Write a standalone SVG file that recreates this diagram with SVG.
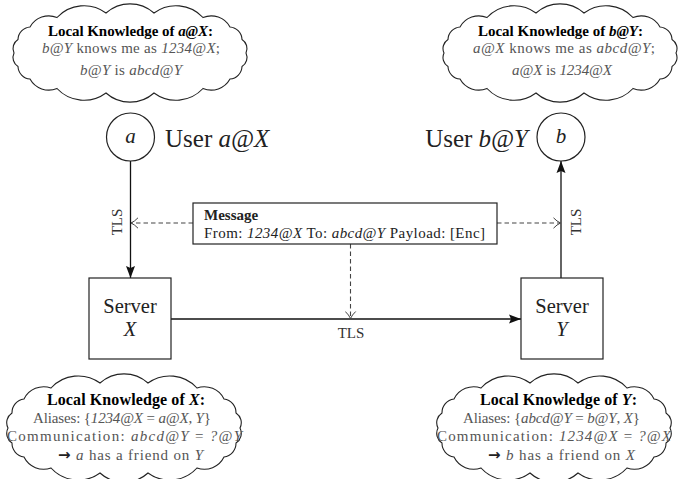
<svg xmlns="http://www.w3.org/2000/svg" width="691" height="479" viewBox="0 0 691 479">
<style>
  .cloud { fill: #fff; stroke: #222; stroke-width: 1.1; }
  .ttl { font-family: "Liberation Serif", serif; font-weight: bold; fill: #000; text-anchor: middle; }
  .body { font-family: "Liberation Serif", serif; fill: #555; text-anchor: middle; }
  .lbl { font-family: "Liberation Serif", serif; fill: #222; }
  .it { font-style: italic; }
  .node { fill: #fff; stroke: #222; stroke-width: 1.2; }
  .solid { fill: none; stroke: #111; stroke-width: 1.3; }
  .dash { fill: none; stroke: #444; stroke-width: 1.1; stroke-dasharray: 4.5 3; }
  .tls { font-family: "Liberation Serif", serif; fill: #333; font-size: 15px; text-anchor: middle; }
  .arr { font-family: "DejaVu Sans", sans-serif; font-weight: bold; fill: #222; font-style: normal; }
</style>
<defs>
  <path id="cloudTop" d="M116,0 A10.6,10.6 0 0 1 112,13.5 A13,13 0 0 1 100,26 A21.5,21.5 0 0 1 73,35.5 A36.9,36.9 0 0 1 24,40 A36,36 0 0 1 -24,40 A36.9,36.9 0 0 1 -73,35.5 A21.5,21.5 0 0 1 -100,26 A13,13 0 0 1 -112,13.5 A10.6,10.6 0 0 1 -116,0 A10.6,10.6 0 0 1 -112,-13.5 A13,13 0 0 1 -100,-26 A21.5,21.5 0 0 1 -73,-35.5 A36.9,36.9 0 0 1 -24,-40 A36,36 0 0 1 24,-40 A36.9,36.9 0 0 1 73,-35.5 A21.5,21.5 0 0 1 100,-26 A13,13 0 0 1 112,-13.5 A10.6,10.6 0 0 1 116,0 Z"/>
  <path id="cloudBot" d="M116,0 A11.6,11.6 0 0 1 112,15 A13.8,13.8 0 0 1 100,29 A21.9,21.9 0 0 1 73,40 A37,37 0 0 1 24,45 A36,36 0 0 1 -24,45 A37,37 0 0 1 -73,40 A21.9,21.9 0 0 1 -100,29 A13.8,13.8 0 0 1 -112,15 A11.6,11.6 0 0 1 -116,0 A11.6,11.6 0 0 1 -112,-15 A13.8,13.8 0 0 1 -100,-29 A21.9,21.9 0 0 1 -73,-40 A37,37 0 0 1 -24,-45 A36,36 0 0 1 24,-45 A37,37 0 0 1 73,-40 A21.9,21.9 0 0 1 100,-29 A13.8,13.8 0 0 1 112,-15 A11.6,11.6 0 0 1 116,0 Z"/>
  <marker id="ah" viewBox="0 0 12 10" refX="12" refY="5" markerWidth="12" markerHeight="10" markerUnits="userSpaceOnUse" orient="auto">
    <path d="M0,0.5 L12,5 L0,9.5 L2,5 Z" fill="#111"/>
  </marker>
  <marker id="oa" viewBox="0 0 8 12" refX="7.5" refY="6" markerWidth="8" markerHeight="12" markerUnits="userSpaceOnUse" orient="auto">
    <path d="M0.5,0.8 Q4,4.5 7.5,6 Q4,7.5 0.5,11.2" fill="none" stroke="#444" stroke-width="1"/>
  </marker>
</defs>

<g id="connectors">
  <line class="solid" x1="130.5" y1="161" x2="130.5" y2="278" marker-end="url(#ah)"/>
  <line class="solid" x1="561" y1="278" x2="561" y2="161" marker-end="url(#ah)"/>
  <line class="solid" x1="171" y1="319" x2="521" y2="319" marker-end="url(#ah)"/>
  <line class="dash" x1="193" y1="223" x2="131" y2="223" marker-end="url(#oa)"/>
  <line class="dash" x1="497" y1="223" x2="560.5" y2="223" marker-end="url(#oa)"/>
  <line class="dash" x1="350.5" y1="244" x2="350.5" y2="318.5" marker-end="url(#oa)"/>
  <text class="tls" transform="translate(121.5,222) rotate(-90)">TLS</text>
  <text class="tls" transform="translate(580.5,222) rotate(-90)">TLS</text>
  <text class="tls" x="351" y="338">TLS</text>
</g>

<g id="cloud-aX">
  <use href="#cloudTop" x="130" y="53" class="cloud"/>
  <text class="ttl" x="130.5" y="36" font-size="15" textLength="165" lengthAdjust="spacing">Local Knowledge of <tspan class="it">a@X</tspan>:</text>
  <text class="body" x="131" y="53" font-size="15" textLength="178" lengthAdjust="spacing"><tspan class="it">b@Y</tspan> knows me as <tspan class="it">1234@X</tspan>;</text>
  <text class="body" x="131" y="75" font-size="15" textLength="102" lengthAdjust="spacing"><tspan class="it">b@Y</tspan> is <tspan class="it">abcd@Y</tspan></text>
</g>

<g id="cloud-bY">
  <use href="#cloudTop" x="560" y="53" class="cloud"/>
  <text class="ttl" x="560.5" y="36" font-size="15" textLength="165" lengthAdjust="spacing">Local Knowledge of <tspan class="it">b@Y</tspan>:</text>
  <text class="body" x="564" y="53" font-size="15" textLength="182" lengthAdjust="spacing"><tspan class="it">a@X</tspan> knows me as <tspan class="it">abcd@Y</tspan>;</text>
  <text class="body" x="562" y="75" font-size="15" textLength="100" lengthAdjust="spacing"><tspan class="it">a@X</tspan> is <tspan class="it">1234@X</tspan></text>
</g>

<g id="user-a">
  <circle class="node" cx="130.5" cy="137" r="24"/>
  <text class="lbl it" x="130.5" y="143" font-size="21" text-anchor="middle">a</text>
  <text class="lbl" x="165" y="147" font-size="25">User <tspan class="it">a@X</tspan></text>
</g>

<g id="user-b">
  <circle class="node" cx="561" cy="137" r="24"/>
  <text class="lbl it" x="561" y="143" font-size="21" text-anchor="middle">b</text>
  <text class="lbl" x="528" y="147" font-size="25" text-anchor="end">User <tspan class="it">b@Y</tspan></text>
</g>

<g id="message">
  <rect class="node" x="193" y="203" width="304" height="41"/>
  <text class="lbl" x="204" y="220" font-size="15" font-weight="bold" fill="#000">Message</text>
  <text class="lbl" x="204" y="238" font-size="15" fill="#444" textLength="281" lengthAdjust="spacing">From: <tspan class="it">1234@X</tspan> To: <tspan class="it">abcd@Y</tspan> Payload: [Enc]</text>
</g>

<g id="server-x">
  <rect class="node" x="89" y="278" width="82" height="81"/>
  <text class="lbl" x="130" y="313" font-size="20.5" text-anchor="middle">Server</text>
  <text class="lbl it" x="130" y="336" font-size="20.5" text-anchor="middle">X</text>
</g>

<g id="server-y">
  <rect class="node" x="521" y="278" width="82" height="81"/>
  <text class="lbl" x="562" y="313" font-size="20.5" text-anchor="middle">Server</text>
  <text class="lbl it" x="562" y="336" font-size="20.5" text-anchor="middle">Y</text>
</g>

<g id="cloud-X">
  <use href="#cloudBot" x="124" y="428" class="cloud"/>
  <text class="ttl" x="126" y="405" font-size="16" textLength="158" lengthAdjust="spacing">Local Knowledge of <tspan class="it">X</tspan>:</text>
  <text class="body" x="122" y="423" font-size="15" textLength="178" lengthAdjust="spacing">Aliases: {<tspan class="it">1234@X</tspan> = <tspan class="it">a@X</tspan>, <tspan class="it">Y</tspan>}</text>
  <text class="body" x="124.5" y="441" font-size="15" textLength="235" lengthAdjust="spacing">Communication: <tspan class="it">abcd@Y</tspan> = <tspan class="it">?@Y</tspan></text>
  <text class="body" x="130.5" y="460" font-size="15" textLength="145" lengthAdjust="spacing"><tspan class="arr">→</tspan> <tspan class="it">a</tspan> has a friend on <tspan class="it">Y</tspan></text>
</g>

<g id="cloud-Y">
  <use href="#cloudBot" x="554" y="428" class="cloud"/>
  <text class="ttl" x="558.5" y="405" font-size="16" textLength="157" lengthAdjust="spacing">Local Knowledge of <tspan class="it">Y</tspan>:</text>
  <text class="body" x="551.5" y="423" font-size="15" textLength="177" lengthAdjust="spacing">Aliases: {<tspan class="it">abcd@Y</tspan> = <tspan class="it">b@Y</tspan>, <tspan class="it">X</tspan>}</text>
  <text class="body" x="554" y="441" font-size="15" textLength="234" lengthAdjust="spacing">Communication: <tspan class="it">1234@X</tspan> = <tspan class="it">?@X</tspan></text>
  <text class="body" x="561.5" y="460" font-size="15" textLength="147" lengthAdjust="spacing"><tspan class="arr">→</tspan> <tspan class="it">b</tspan> has a friend on <tspan class="it">X</tspan></text>
</g>
</svg>
